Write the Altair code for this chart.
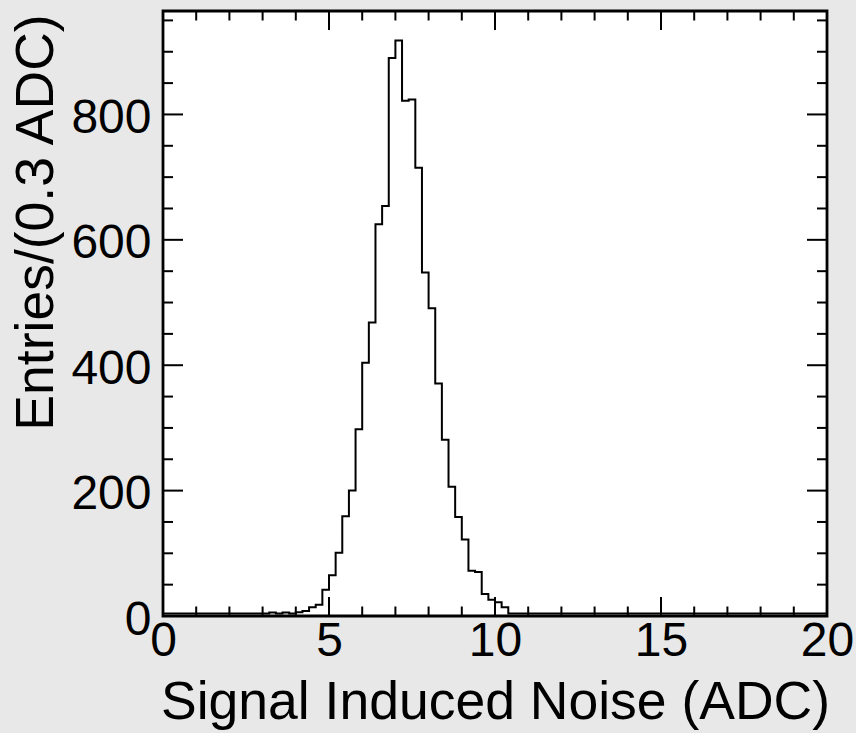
import altair as alt
import pandas as pd

# Histogram: 100 bins of width 0.2 from 0 to 20 (lower edges)
bin_lo = [round(0.2 * i, 1) for i in range(100)]
counts = [
    4, 4, 4, 4, 4, 4, 4, 4, 4, 4,          # 0.0 - 2.0
    4, 4, 4, 4, 4, 4, 5.5, 4, 5.5, 4,      # 2.0 - 4.0
    6, 8, 14, 18, 42, 65, 101, 159, 200, 298,   # 4.0 - 6.0
    404, 468, 625, 654, 890, 918, 822, 824, 715, 548,  # 6.0 - 8.0
    491, 371, 281, 206, 158, 122, 72, 70, 35, 26,      # 8.0 - 10.0
    22, 14, 4, 4, 4, 4, 4, 4, 4, 4,        # 10.0 - 12.0
    4, 4, 4, 4, 4, 4, 4, 4, 4, 4,          # 12.0 - 14.0
    4, 4, 4, 4, 4, 4, 4, 4, 4, 4,          # 14.0 - 16.0
    4, 4, 4, 4, 4, 4, 4, 4, 4, 4,          # 16.0 - 18.0
    4, 4, 4, 4, 4, 4, 4, 4, 4, 4,          # 18.0 - 20.0
]

x_major = [0, 5, 10, 15, 20]
x_minor = [1, 2, 3, 4, 6, 7, 8, 9, 11, 12, 13, 14, 16, 17, 18, 19]
y_major = [0, 200, 400, 600, 800]
y_minor = [50, 100, 150, 250, 300, 350, 450, 500, 550, 650, 700, 750, 850, 900, 950]

X_DOMAIN = [0, 20]
Y_DOMAIN = [0, 965]

W, H = 664, 605
FONT = "Liberation Sans"

step_df = pd.DataFrame({
    "x": bin_lo + [20.0],
    "y": counts + [counts[-1]],
})

xs = alt.Scale(domain=X_DOMAIN, nice=False, zero=False)
ys = alt.Scale(domain=Y_DOMAIN, nice=False)

line = alt.Chart(step_df).mark_line(
    interpolate="step-after", color="black", strokeWidth=2
).encode(
    x=alt.X("x:Q", scale=xs,
            axis=alt.Axis(values=x_major, ticks=False, domain=False, grid=False,
                          labelFontSize=48, labelFont=FONT, labelColor="black",
                          labelFlush=False, labelOverlap=False, labelPadding=1,
                          format="d",
                          title="Signal Induced Noise (ADC)", titleFont=FONT,
                          titleFontSize=53.5, titleFontWeight="normal", titleColor="black",
                          titleX=332, titleY=102, titleBaseline="alphabetic")),
    y=alt.Y("y:Q", scale=ys,
            axis=alt.Axis(values=y_major, ticks=False, domain=False, grid=False,
                          labelFontSize=48, labelFont=FONT, labelColor="black",
                          labelFlush=False, labelOverlap=False, labelPadding=12,
                          labelOffset=4,
                          format="d",
                          title="Entries/(0.3 ADC)", titleFont=FONT,
                          titleFontSize=53.5, titleFontWeight="normal", titleColor="black",
                          titleAngle=270, titleAlign="center", titleBaseline="middle",
                          titleX=-127, titleY=211)),
)

def xticks(vals, length):
    df = pd.DataFrame({"v": vals})
    bottom = alt.Chart(df).mark_rule(color="black", strokeWidth=2).encode(
        x=alt.X("v:Q", scale=xs), y=alt.value(H), y2=alt.value(H - length))
    top = alt.Chart(df).mark_rule(color="black", strokeWidth=2).encode(
        x=alt.X("v:Q", scale=xs), y=alt.value(0), y2=alt.value(length))
    return [bottom, top]

def yticks(vals, length):
    df = pd.DataFrame({"v": vals})
    left = alt.Chart(df).mark_rule(color="black", strokeWidth=2).encode(
        y=alt.Y("v:Q", scale=ys), x=alt.value(0), x2=alt.value(length))
    right = alt.Chart(df).mark_rule(color="black", strokeWidth=2).encode(
        y=alt.Y("v:Q", scale=ys), x=alt.value(W), x2=alt.value(W - length))
    return [left, right]

layers = [line] + xticks(x_major, 19) + xticks(x_minor, 9.5) + yticks(y_major, 20) + yticks(y_minor, 10)

chart = alt.layer(*layers).properties(
    width=W, height=H,
    autosize=alt.AutoSizeParams(type="none"),
    padding={"left": 163, "top": 11, "right": 29, "bottom": 117},
    background="#e8e8e8",
).configure_view(
    fill="white", stroke="black", strokeWidth=2.8
)

chart.save("out.html", embed_options={"renderer": "svg", "actions": False})
